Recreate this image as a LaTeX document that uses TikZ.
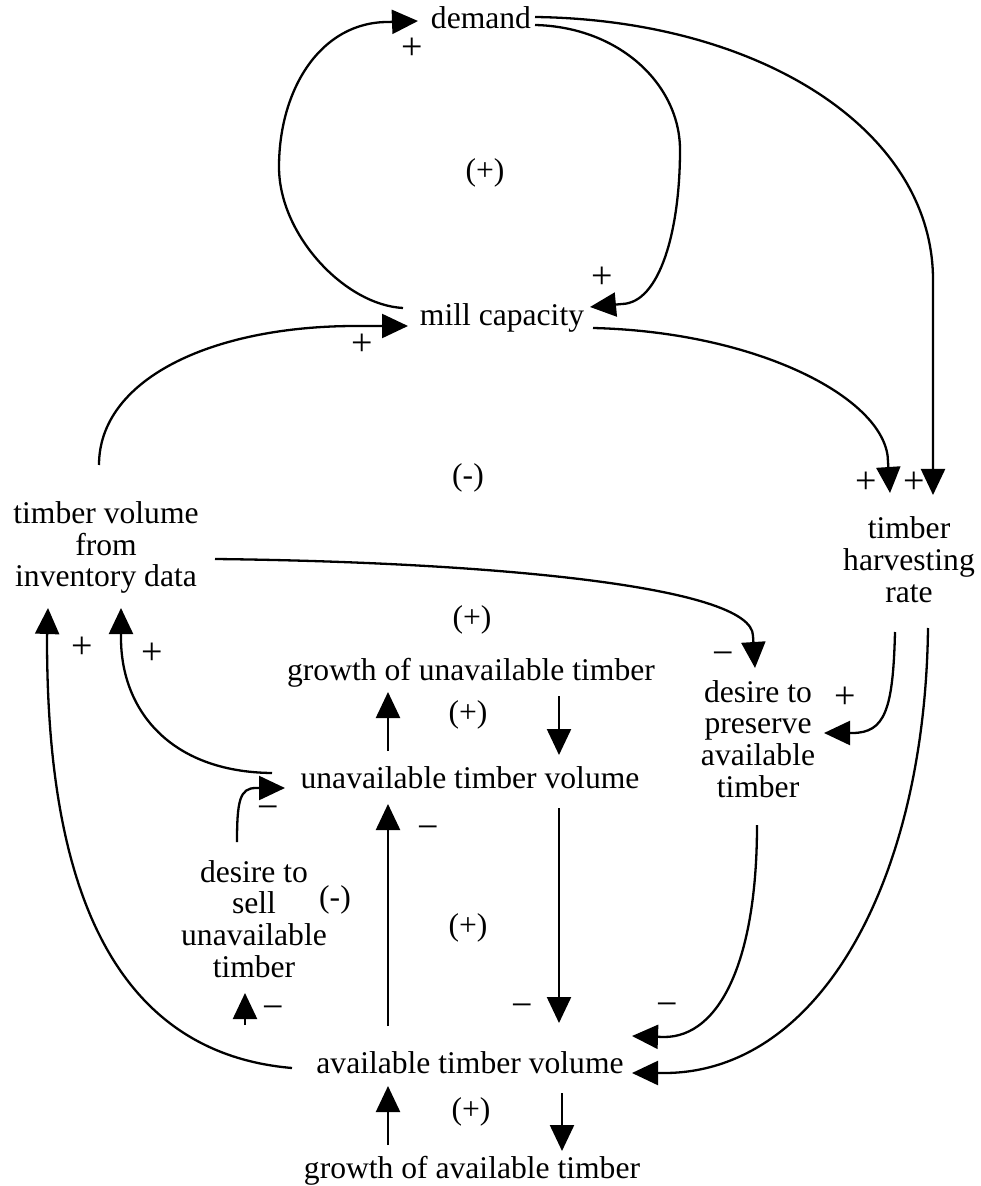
\documentclass[tikz,border=0pt]{standalone}
\usepackage{fontspec}
\setmainfont{Liberation Serif}
\usetikzlibrary{arrows.meta}
\begin{document}
\begin{tikzpicture}[x=0.5pt,y=-0.5pt,
  var/.style={inner sep=0pt, font=\fontsize{15.8}{15.85}\selectfont, align=center},
  lab/.style={inner sep=0pt, font=\fontsize{19}{19}\selectfont},
  looplab/.style={inner sep=0pt, font=\fontsize{15.8}{15.85}\selectfont},
  conn/.style={line width=1.15pt, -{Triangle[length=13pt,width=12pt]}}]
\fill[white] (0,0) rectangle (980,1186);
\useasboundingbox (0,0) rectangle (980,1186);

% variables
\node[var, anchor=base] (demand) at (481,29) {demand};
\node[var, anchor=base] (mill) at (502,326) {mill capacity};
\node[var] (inv) at (106,547.5) {timber volume\\from\\inventory data};
\node[var] (harv) at (909,559.5) {timber\\harvesting\\rate};
\node[var] (pres) at (758,739) {desire to\\preserve\\available\\timber};
\node[var, anchor=base] (gun) at (471,680) {growth of unavailable timber};
\node[var, anchor=base] (unav) at (470,788) {unavailable timber volume};
\node[var] (sell) at (254,919) {desire to\\sell\\unavailable\\timber};
\node[var, anchor=base] (avail) at (470,1073) {available timber volume};
\node[var, anchor=base] (gav) at (472,1178) {growth of available timber};

% connectors
\draw[conn] ([shift={(-99,-18)}]mill.base) .. controls (345,305) and (279,235) .. (279,167)
  .. controls (279,90) and (320,22) .. (388,22) -- ([shift={(-63,-8)}]demand.base);
\draw[conn] ([shift={(54,-4)}]demand.base) .. controls (620,27) and (680,85) .. (680,150)
  .. controls (680,230) and (660,303) .. (622,304) -- ([shift={(88,-19)}]mill.base);
\draw[conn] ([shift={(54,-12)}]demand.base) .. controls (760,20) and (933,130) .. (933,280)
  -- ([shift={(24,-64.5)}]harv.center);
\draw[conn] ([shift={(91,2)}]mill.base) .. controls (760,332) and (888,400) .. (888,462)
  -- ([shift={(-19,-66.5)}]harv.center);
\draw[conn] ([shift={(-7,-82.5)}]inv.center) .. controls (99,380) and (210,326) .. (356,326)
  -- ([shift={(-94,0)}]mill.base);
\draw[conn] ([shift={(109,11.5)}]inv.center) .. controls (480,562) and (753,585) .. (753,636)
  -- ([shift={(-3,-71)}]pres.center);
\draw[conn] ([shift={(-14,72.5)}]harv.center) .. controls (893,710) and (885,733) .. (852,733)
  -- ([shift={(66,-6)}]pres.center);
\draw[conn] ([shift={(19,68.5)}]harv.center) .. controls (925,880) and (820,1073) .. (664,1073)
  -- ([shift={(162,0)}]avail.base);
\draw[conn] ([shift={(-1,86)}]pres.center) .. controls (757,960) and (720,1037) .. (664,1037)
  -- ([shift={(162,-37)}]avail.base);
\draw[conn] ([shift={(-178,-5)}]avail.base) .. controls (80,1050) and (47,820) .. (47,638)
  -- ([shift={(-58,60.5)}]inv.center);
\draw[conn] ([shift={(-198,-15)}]unav.base) .. controls (170,772) and (121,710) .. (121,638)
  -- ([shift={(15,60.5)}]inv.center);
\draw[conn] ([shift={(-17,-77)}]sell.center) .. controls (237,800) and (240,788) .. (256,788)
  -- ([shift={(-185,0)}]unav.base);
\draw[conn] ([shift={(-225,-48)}]avail.base) -- ([shift={(-9,74)}]sell.center);
\draw[conn] ([shift={(-82,-47)}]avail.base) -- ([shift={(-82,16)}]unav.base);
\draw[conn] ([shift={(89,20)}]unav.base) -- ([shift={(89,-50)}]avail.base);
\draw[conn] ([shift={(-82,-37)}]unav.base) -- ([shift={(-83,12)}]gun.base);
\draw[conn] ([shift={(88,16)}]gun.base) -- ([shift={(89,-33)}]unav.base);
\draw[conn] ([shift={(-84,-33)}]gav.base) -- ([shift={(-82,13)}]avail.base);
\draw[conn] ([shift={(92,20)}]avail.base) -- ([shift={(90,-27)}]gav.base);

% polarity labels
\node[lab] (p1) at (412,49) {+};
\node[lab] (p2) at (602,278) {+};
\node[lab] (p3) at (362,345) {+};
\node[lab] (p4) at (866,483) {+};
\node[lab] (p5) at (914,483) {+};
\node[lab] (p6) at (82,648) {+};
\node[lab] (p7) at (152,654) {+};
\node[lab] (p8) at (845,698) {+};
\node[lab] (m1) at (723,659) {−};
\node[lab] (m2) at (268,813) {−};
\node[lab] (m3) at (273,1013) {−};
\node[lab] (m4) at (428,833) {−};
\node[lab] (m5) at (522,1011) {−};
\node[lab] (m6) at (667,1010) {−};

% loop labels
\node[looplab] (L1) at (485,173) {(+)};
\node[looplab] (L2) at (468,478) {(-)};
\node[looplab] (L3) at (472,620) {(+)};
\node[looplab] (L4) at (468,715) {(+)};
\node[looplab] (L5) at (335,900) {(-)};
\node[looplab] (L6) at (468,928) {(+)};
\node[looplab] (L7) at (471,1112) {(+)};
\end{tikzpicture}
\end{document}
